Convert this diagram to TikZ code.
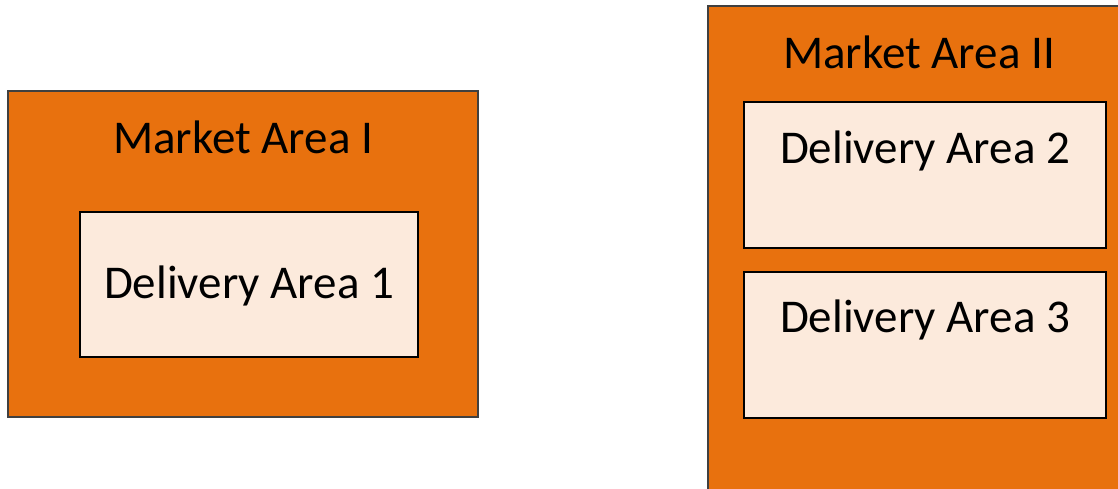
\documentclass[tikz,border=0pt]{standalone}
\usepackage{fontspec}
\setmainfont{Carlito}
\definecolor{mkt}{HTML}{E8710E}
\definecolor{dlv}{HTML}{FCEADC}
\begin{document}
\begin{tikzpicture}[x=1pt,y=-1pt,
  market/.style={draw=black!75,line width=1.2pt,fill=mkt},
  delivery/.style={draw=black,line width=1.2pt,fill=dlv},
  lbl/.style={font=\fontsize{47}{51}\selectfont,inner sep=0pt,anchor=center}]
\useasboundingbox (0,0) rectangle (1118,489);
\begin{scope}
\clip (0,0) rectangle (1118,489);
\draw[market] (8,91) rectangle (478,417);
\draw[market] (708,6) rectangle (1130,500);
\end{scope}
\draw[delivery] (80,212) rectangle (418,357);
\draw[delivery] (744,102) rectangle (1106,248);
\draw[delivery] (744,272) rectangle (1106,418);
\node[lbl] (m1) at (243,137) {Market Area I};
\node[lbl] (d1) at (249,286) {Delivery Area 1};
\node[lbl] (m2) at (919,52) {Market Area II};
\node[lbl] (d2) at (925,151) {Delivery Area 2};
\node[lbl] (d3) at (925,320) {Delivery Area 3};
\end{tikzpicture}
\end{document}
